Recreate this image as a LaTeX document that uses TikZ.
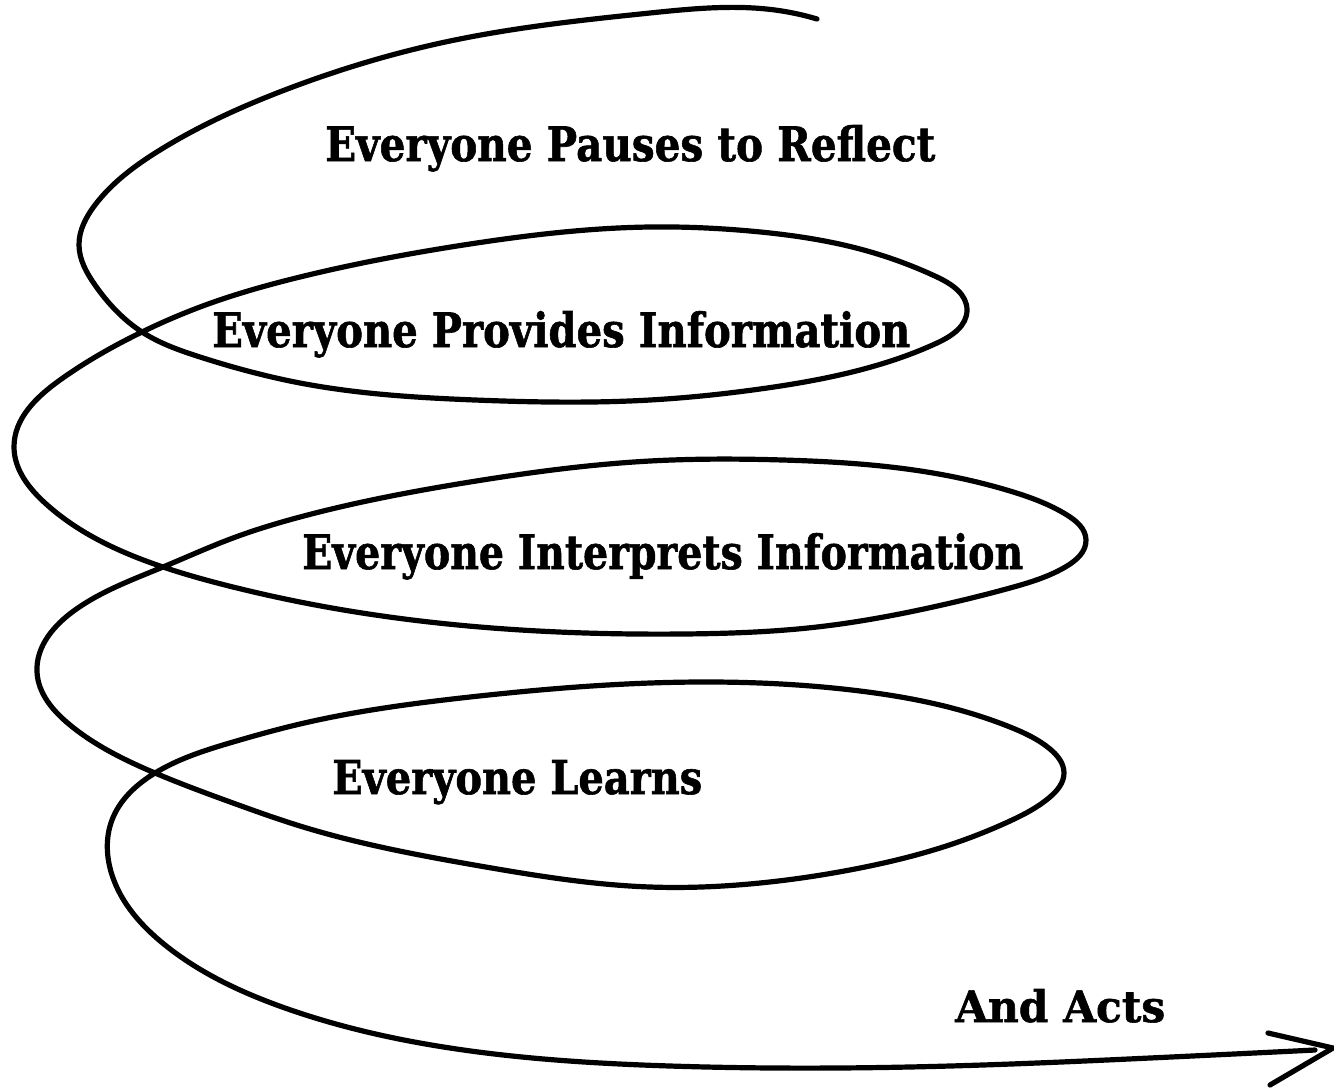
\documentclass[tikz,border=0pt]{standalone}
\usepackage{fontspec}
\usetikzlibrary{hobby}
\newfontfamily\lblfont[BoldFeatures={FakeBold=1.3}]{DejaVu Serif}
\usepackage{graphicx}
\tikzset{
  spiral/.style={line width=5.2pt, line cap=round, line join=round, draw=black},
  lbl/.style={anchor=base west, inner sep=0pt, font=\lblfont\bfseries},
}
\newcommand{\fitlbl}[3]{\resizebox{#1}{#2}{#3}}
\begin{document}
\begin{tikzpicture}[x=1pt,y=-1pt]
\useasboundingbox (0,0) rectangle (1334,1088);
\draw[spiral, use Hobby shortcut] (817,19) .. (775,10) .. (650,13) .. (450,41) .. (290,88) .. (160,150) .. (95,205) .. (79,245) .. (95,285) .. (142,332)
 .. (200,357) .. (300,383) .. (475,400) .. (650,400) .. (760,389) .. (860,370) .. (937,343) .. (967,310) .. (937,277) .. (860,249) .. (750,231) .. (650,227) .. (470,244) .. (300,277) .. (200,307) .. (142,332)
 .. (60,380) .. (14,447) .. (45,503) .. (163,567)
 .. (233,587) .. (300,602) .. (480,627) .. (683,634) .. (817,627) .. (933,607) .. (1010,588) .. (1067,566) .. (1086,540) .. (1067,515) .. (1010,491) .. (933,473) .. (783,460) .. (650,461) .. (470,482) .. (300,517) .. (233,538) .. (163,567)
 .. (75,610) .. (37,672) .. (70,725) .. (155,773)
 .. (233,803) .. (300,826) .. (480,866) .. (650,887) .. (760,883) .. (860,868) .. (940,848) .. (1010,821) .. (1050,797) .. (1064,773) .. (1050,749) .. (1010,727) .. (940,705) .. (860,691) .. (760,683) .. (650,683) .. (470,697) .. (300,724) .. (233,742) .. (155,773)
 .. (112,820) .. (112,875) .. (165,945) .. (285,1008) .. (450,1048) .. (670,1066) .. (950,1066) .. (1150,1058) .. (1315,1050);
\coordinate (tip) at (1333,1048);
\coordinate (barbA) at (1268,1033);
\coordinate (barbB) at (1270,1085);
\draw[spiral] (barbA) -- (tip) -- (barbB);
\node[lbl] (reflect) at (325,161) {\fitlbl{610pt}{36pt}{Everyone Pauses to Reflect}};
\node[lbl] (provide) at (212,347) {\fitlbl{698pt}{36pt}{Everyone Provides Information}};
\node[lbl] (interp) at (302,569) {\fitlbl{721pt}{36pt}{Everyone Interprets Information}};
\node[lbl] (learn) at (332,794) {\fitlbl{370pt}{34pt}{Everyone Learns}};
\node[lbl] (acts) at (955,1022) {\fitlbl{210pt}{33pt}{And Acts}};
\end{tikzpicture}
\end{document}
